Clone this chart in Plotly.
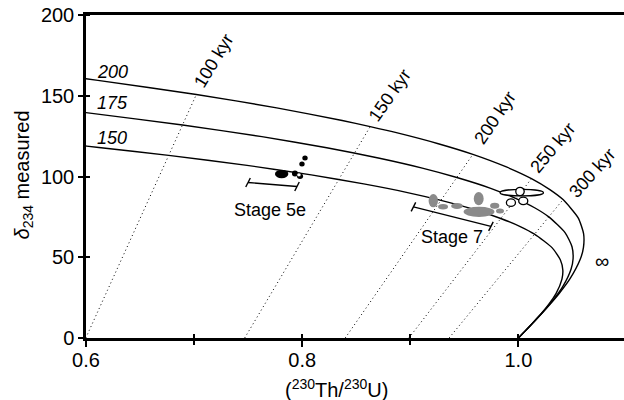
import plotly.graph_objects as go

FONT = "Liberation Sans, Arial, Helvetica, sans-serif"

# ---- evolution curves for initial delta234 = 200, 175, 150 ----
c200_x = [0.5853, 0.6110, 0.7021, 0.7764, 0.8370, 0.8629, 0.8862, 0.9259, 0.9579, 0.9889, 1.0121, 1.0291,
          1.0413, 1.0553, 1.0603, 1.0602, 1.0572, 1.0478, 1.0379, 1.0293, 1.0170, 1.0073, 1.0010, 1.0]
c200_y = [161.8, 159.5, 150.8, 142.5, 134.7, 130.9, 127.3, 120.3, 113.7, 105.9, 98.7, 91.9,
          85.7, 74.4, 64.6, 56.1, 48.7, 36.7, 27.7, 20.9, 11.9, 5.1, 0.7, 0]

c175_x = [0.5742, 0.5996, 0.6893, 0.7627, 0.8227, 0.8715, 0.9111, 0.9431, 0.9744, 0.9979, 1.0154, 1.0281,
          1.0433, 1.0496, 1.0506, 1.0487, 1.0413, 1.0330, 1.0256, 1.0149, 1.0064, 1.0009, 1.0]
c175_y = [141.6, 139.6, 131.9, 124.7, 117.8, 111.3, 105.2, 99.4, 92.7, 86.3, 80.5, 75.0,
          65.1, 56.5, 49.1, 42.6, 32.1, 24.2, 18.3, 10.4, 4.4, 0.6, 0]

c150_x = [0.5632, 0.5881, 0.6119, 0.6765, 0.7490, 0.8084, 0.8569, 0.8964, 0.9284, 0.9598, 0.9837, 1.0017,
          1.0149, 1.0313, 1.0388, 1.0411, 1.0403, 1.0348, 1.0280, 1.0218, 1.0127, 1.0055, 1.0008, 1.0]
c150_y = [121.4, 119.7, 118.0, 113.1, 106.9, 101.0, 95.4, 90.2, 85.2, 79.4, 74.0, 69.0,
          64.3, 55.8, 48.4, 42.1, 36.5, 27.5, 20.8, 15.6, 8.9, 3.8, 0.5, 0]

curve_labels = ["200", "175", "150"]
curve_label_x = [0.6241, 0.6241, 0.6241]
curve_label_y = [165.0, 145.5, 124.0]

# ---- isochrons (dotted) ----
iso_labels = ["100 kyr", "150 kyr", "200 kyr", "250 kyr", "300 kyr"]
iso_x0 = [0.5998, 0.7468, 0.8398, 0.8987, 0.9359]
iso_y0 = [0, 0, 0, 0, 0]
iso_x1 = [0.7021, 0.8629, 0.9579, 1.0121, 1.0413]
iso_y1 = [150.8, 130.9, 113.7, 98.7, 85.7]
iso_label_x = [0.7178, 0.8812, 0.9784, 1.0314, 1.0684]
iso_label_y = [171.7, 150.5, 136.1, 117.9, 102.0]
iso_label_angle = [-59, -55, -56, -50, -48]

# ---- data ellipses: centre x, centre y, half-width, half-height ----
black_cx = [0.7810, 0.7933, 0.7980, 0.8026, 0.7998]
black_cy = [101.5, 101.9, 100.1, 111.5, 107.8]
black_rx = [0.0062, 0.0028, 0.0028, 0.0025, 0.0025]
black_ry = [2.6, 1.85, 1.7, 1.55, 1.55]

white_small_cx = [0.7970]
white_small_cy = [101.0]
white_small_rx = [0.0021]
white_small_ry = [1.3]

grey_cx = [0.9213, 0.9303, 0.9432, 0.9633, 0.9636, 0.9781, 0.9830]
grey_cy = [85.0, 81.2, 81.8, 86.3, 78.1, 81.9, 78.7]
grey_rx = [0.00435, 0.0046, 0.0054, 0.0046, 0.0143, 0.0043, 0.0037]
grey_ry = [4.1, 1.7, 1.85, 4.1, 3.1, 1.85, 1.55]

open_cx = [1.0031, 1.0015, 0.9931, 1.0045]
open_cy = [90.0, 90.7, 83.8, 84.9]
open_rx = [0.0201, 0.0039, 0.0042, 0.0042]
open_ry = [2.05, 2.6, 2.3, 2.3]

# ---- stage bars ----
stage_names = ["Stage 5e", "Stage 7"]
stage_x0 = [0.7499, 0.9029]
stage_y0 = [96.3, 81.2]
stage_x1 = [0.7952, 0.9746]
stage_y1 = [93.8, 69.1]
stage_label_x = [0.7705, 0.9389]
stage_label_y = [79.0, 62.8]

inf_x, inf_y = 1.0770, 47.8

x_label_vals = [0.6, 0.8, 1.0]
x_label_text = ["0.6", "0.8", "1.0"]
x_unlabelled_vals = [0.7, 0.9]
y_tickvals = [0, 50, 100, 150, 200]

XR = [0.6, 1.0977]

fig = go.Figure()

for xs, ys in [(c200_x, c200_y), (c175_x, c175_y), (c150_x, c150_y)]:
    fig.add_trace(go.Scatter(x=xs, y=ys, mode="lines",
                             line=dict(color="black", width=1.4, shape="spline", smoothing=0.6),
                             hoverinfo="skip", showlegend=False))

for i in range(len(iso_labels)):
    fig.add_trace(go.Scatter(x=[iso_x0[i], iso_x1[i]], y=[iso_y0[i], iso_y1[i]], mode="lines",
                             xaxis="x2", yaxis="y",
                             line=dict(color="black", width=1, dash="1px,3px"),
                             hoverinfo="skip", showlegend=False))
    fig.add_annotation(x=iso_label_x[i], y=iso_label_y[i], text=iso_labels[i], showarrow=False,
                       textangle=iso_label_angle[i], font=dict(family=FONT, size=18, color="black"),
                       xanchor="center", yanchor="middle")

TICK_DX, TICK_DY = 0.0021, 2.8
for i in range(len(stage_names)):
    fig.add_trace(go.Scatter(x=[stage_x0[i], stage_x1[i]], y=[stage_y0[i], stage_y1[i]], mode="lines",
                             line=dict(color="black", width=1.4), hoverinfo="skip", showlegend=False))
    for ex, ey in [(stage_x0[i], stage_y0[i]), (stage_x1[i], stage_y1[i])]:
        fig.add_trace(go.Scatter(x=[ex - TICK_DX, ex + TICK_DX], y=[ey - TICK_DY, ey + TICK_DY], mode="lines",
                                 line=dict(color="black", width=1.4), hoverinfo="skip", showlegend=False))
    fig.add_annotation(x=stage_label_x[i], y=stage_label_y[i], text=stage_names[i], showarrow=False,
                       font=dict(family=FONT, size=18, color="black"), xanchor="center", yanchor="middle")

for i in range(len(curve_labels)):
    fig.add_annotation(x=curve_label_x[i], y=curve_label_y[i], text="<i>" + curve_labels[i] + "</i>",
                       showarrow=False, font=dict(family=FONT, size=18, color="black"),
                       xanchor="center", yanchor="middle")

fig.add_annotation(x=inf_x, y=inf_y, text="∞", showarrow=False,
                   font=dict(family=FONT, size=20, color="black"), xanchor="center", yanchor="middle")


def ellipses(cx, cy, rx, ry, fill, lw, lc):
    for a, b, c, d in zip(cx, cy, rx, ry):
        fig.add_shape(type="circle", xref="x", yref="y", x0=a - c, x1=a + c, y0=b - d, y1=b + d,
                      fillcolor=fill, line=dict(color=lc, width=lw), layer="above")


ellipses(grey_cx, grey_cy, grey_rx, grey_ry, "#8a8a8a", 0, "#8a8a8a")
ellipses(black_cx, black_cy, black_rx, black_ry, "black", 0, "black")
ellipses(white_small_cx, white_small_cy, white_small_rx, white_small_ry, "white", 1, "black")
ellipses(open_cx, open_cy, open_rx, open_ry, "white", 1.3, "black")

# axis titles
fig.add_annotation(xref="paper", yref="paper", x=-0.116, y=0.505, textangle=-90,
                   text="<i>δ</i><sub>234</sub> measured", showarrow=False,
                   font=dict(family=FONT, size=20, color="black"), xanchor="center", yanchor="middle")
fig.add_annotation(xref="paper", yref="paper", x=0.466, y=-0.155,
                   text="(<sup>230</sup>Th/<sup>230</sup>U)", showarrow=False,
                   font=dict(family=FONT, size=20, color="black"), xanchor="center", yanchor="middle")

fig.update_layout(
    width=624, height=400,
    margin=dict(l=86, r=0, t=15, b=62),
    paper_bgcolor="white", plot_bgcolor="white",
    font=dict(family=FONT, size=20, color="black"),
    showlegend=False,
    xaxis=dict(range=XR, tickmode="array", tickvals=x_label_vals, ticktext=x_label_text,
               ticks="outside", ticklen=6, tickwidth=2, tickcolor="black", ticklabelstandoff=-4,
               showline=True, linewidth=2.5, linecolor="black", mirror=True,
               showgrid=False, zeroline=False, tickfont=dict(size=20, family=FONT, color="black"),
               minor=dict(ticks="inside", tickvals=x_unlabelled_vals + x_label_vals[1:], ticklen=4,
                          tickwidth=2, tickcolor="black", showgrid=False)),
    xaxis2=dict(range=XR, overlaying="x", anchor="y", side="bottom", tickmode="array",
                tickvals=x_unlabelled_vals, ticks="outside", ticklen=6, tickwidth=2, tickcolor="black",
                showticklabels=False, showline=False, showgrid=False, zeroline=False),
    yaxis=dict(range=[0, 200], tickmode="array", tickvals=y_tickvals,
               ticks="outside", ticklen=5, tickwidth=2, tickcolor="black",
               showline=True, linewidth=2.5, linecolor="black",
               showgrid=False, zeroline=False, tickfont=dict(size=20, family=FONT, color="black"),
               minor=dict(ticks="inside", tickvals=y_tickvals[1:], ticklen=4, tickwidth=2,
                          tickcolor="black", showgrid=False)),
)

fig.write_html("out.html", config={"displayModeBar": False},
               post_script="document.body.style.margin='0px';")
